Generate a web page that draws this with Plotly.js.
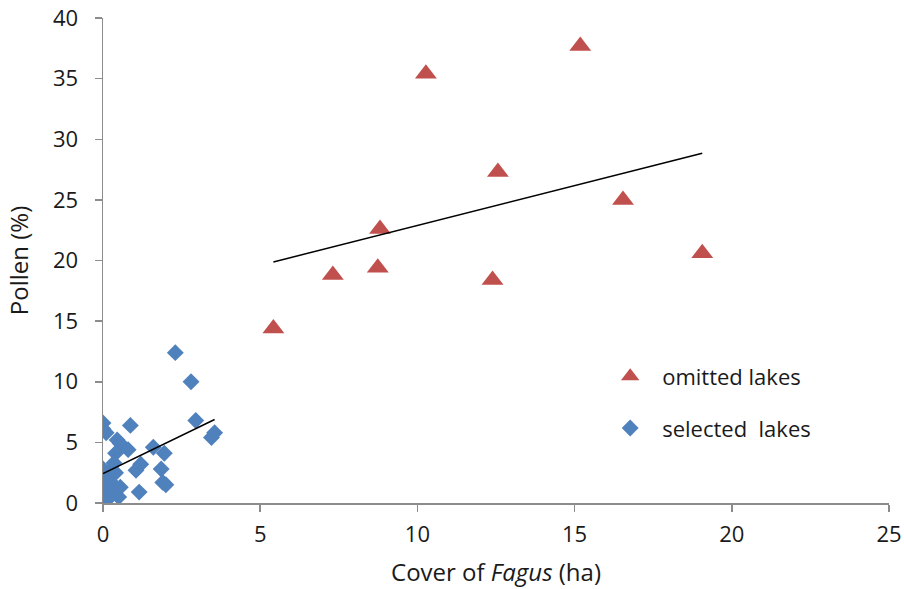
<!DOCTYPE html>
<html>
<head>
<meta charset="utf-8">
<script src="https://cdn.plot.ly/plotly-3.0.1.min.js"></script>
<style>html,body{margin:0;padding:0;background:#fff;}#chart{width:904px;height:589px;}</style>
</head>
<body>
<div id="chart"></div>
<script>
// Omitted lakes (red triangles)
const omittedCover = [5.42, 7.31, 8.74, 8.81, 10.27, 12.39, 12.56, 15.18, 16.54, 19.06];
const omittedPollen = [14.4, 18.8, 19.4, 22.6, 35.4, 18.4, 27.3, 37.7, 25.0, 20.6];

// Selected lakes (blue diamonds)
const selectedCover = [2.30, 2.80, 2.95, 3.45, 3.55, 0.87, 0.00, 0.00, 0.10, 0.45, 0.55, 0.40, 0.80, 1.60, 1.95, 1.20, 1.05, 1.85, 1.90, 2.00, 1.15, 0.50, 0.00, 0.00, 0.20, 0.35, 0.00, 0.10, 0.30, 0.20, 0.40, 0.05, 0.55, 0.30, 0.15];
const selectedPollen = [12.4, 10.0, 6.8, 5.4, 5.8, 6.4, 6.6, 6.1, 5.8, 5.2, 4.9, 4.1, 4.4, 4.6, 4.1, 3.2, 2.7, 2.8, 1.7, 1.5, 0.9, 0.5, 2.8, 2.1, 2.6, 3.3, 0.8, 0.6, 1.6, 1.8, 2.5, 1.3, 1.3, 0.8, 0.3];

const xTicks = [0, 5, 10, 15, 20, 25];
const yTicks = [0, 5, 10, 15, 20, 25, 30, 35, 40];

function fit(xs, ys) {
  const n = xs.length;
  const mx = xs.reduce((a, b) => a + b, 0) / n;
  const my = ys.reduce((a, b) => a + b, 0) / n;
  let sxy = 0, sxx = 0;
  for (let i = 0; i < n; i++) { sxy += (xs[i] - mx) * (ys[i] - my); sxx += (xs[i] - mx) ** 2; }
  const slope = sxy / sxx, icpt = my - slope * mx;
  const x0 = Math.min(...xs), x1 = Math.max(...xs);
  return { x: [x0, x1], y: [icpt + slope * x0, icpt + slope * x1] };
}

const fo = fit(omittedCover, omittedPollen);
const fs = fit(selectedCover, selectedPollen);
const FONT = 'Open Sans, sans-serif';
const axisColor = '#8c8c8c';
const textColor = '#1a1a1a';

const traces = [
  { x: omittedCover, y: omittedPollen, type: 'scatter', mode: 'markers', name: 'omitted lakes', legendgroup: 'a',
    marker: { symbol: 'triangle-up', size: 19, color: '#C0504D' } },
  { x: selectedCover, y: selectedPollen, type: 'scatter', mode: 'markers', name: 'selected\u00a0 lakes', legendgroup: 'b',
    marker: { symbol: 'diamond', size: 13, color: '#4F81BD' } },
  { x: fo.x, y: fo.y, type: 'scatter', mode: 'lines', showlegend: false, line: { color: '#000', width: 1.5 } },
  { x: fs.x, y: fs.y, type: 'scatter', mode: 'lines', showlegend: false, line: { color: '#000', width: 1.5 } }
];

const layout = {
  width: 904, height: 589,
  margin: { l: 102.5, r: 15.3, t: 18.3, b: 85.7 },
  paper_bgcolor: '#fff', plot_bgcolor: '#fff',
  font: { family: FONT, size: 22, color: textColor },
  showlegend: true,
  legend: { x: 0.630, y: 0.304, xanchor: 'left', yanchor: 'top', itemwidth: 54,
            font: { family: FONT, size: 22, color: textColor },
            tracegroupgap: 20, traceorder: 'grouped', bgcolor: 'rgba(0,0,0,0)' },
  xaxis: {
    range: [0, 25], tickvals: xTicks, ticktext: xTicks.map(String), showgrid: false, zeroline: false,
    showline: true, linecolor: axisColor, linewidth: 1.5, ticks: 'outside', ticklen: 7, tickcolor: axisColor, tickwidth: 1.5,
    ticklabelstandoff: 4,
    tickfont: { family: FONT, size: 22, color: textColor },
    title: { text: 'Cover of <i>Fagus</i> (ha)', font: { family: FONT, size: 24, color: textColor }, standoff: 17 }
  },
  yaxis: {
    range: [0, 40], tickvals: yTicks, ticktext: yTicks.map(String), showgrid: false, zeroline: false,
    showline: true, linecolor: axisColor, linewidth: 1.5, ticks: 'outside', ticklen: 7, tickcolor: axisColor, tickwidth: 1.5,
    ticklabelstandoff: 12,
    tickfont: { family: FONT, size: 22, color: textColor },
    title: { text: 'Pollen (%)', font: { family: FONT, size: 24, color: textColor }, standoff: 17 }
  }
};

Plotly.newPlot('chart', traces, layout, { displayModeBar: false, staticPlot: true });
</script>
</body>
</html>
